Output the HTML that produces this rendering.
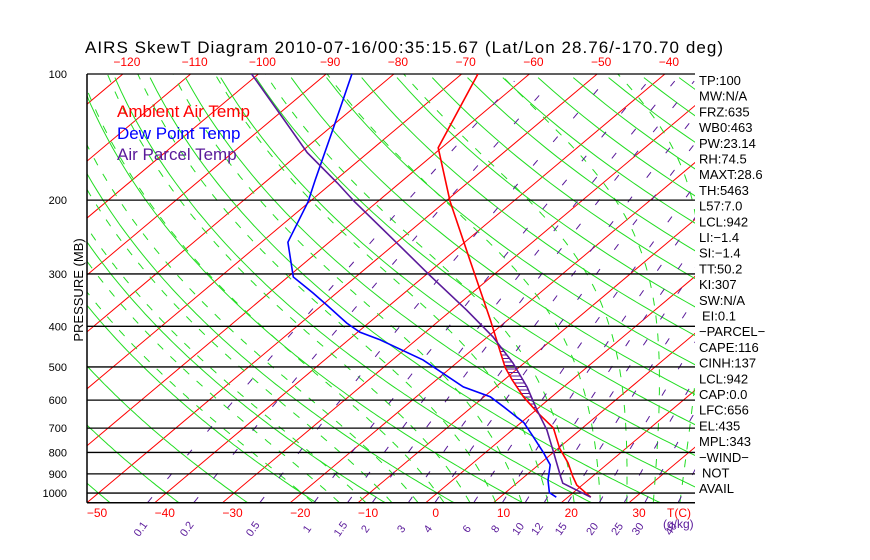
<!DOCTYPE html>
<html><head><meta charset="utf-8">
<style>
html,body{margin:0;padding:0;background:#fff;}
svg{display:block;font-family:"Liberation Sans",sans-serif;}
</style></head>
<body>
<svg id="chart" width="870" height="560" viewBox="0 0 870 560" xmlns="http://www.w3.org/2000/svg">
<defs><clipPath id="plotclip"><rect x="87" y="74" width="608" height="429"/></clipPath></defs>
<rect width="870" height="560" fill="#fff"/>
<text x="85" y="53" font-size="17" fill="#000" textLength="638">AIRS SkewT Diagram 2010-07-16/00:35:15.67 (Lat/Lon 28.76/-170.70 deg)</text>
<g id="bg" clip-path="url(#plotclip)"></g>
<g id="axes"></g>
<g id="series" clip-path="url(#plotclip)"></g>
<g id="labels"></g>
<text transform="translate(83,290) rotate(-90)" text-anchor="middle" font-size="13" fill="#000">PRESSURE (MB)</text>
<text x="117" y="117" font-size="17" fill="#ff0000">Ambient Air Temp</text>
<text x="117" y="139" font-size="17" fill="#0000ff">Dew Point Temp</text>
<text x="117" y="160" font-size="17" fill="#5a1a9a">Air Parcel Temp</text>
</svg>
<script>
const ambP=[100,150,201,278,386,439,502,537,589,643,699,782,847,913,957,1023];
const ambT=[-67.6,-60.5,-49.4,-36.1,-22.6,-17.4,-12.0,-8.8,-4.2,0.7,5.7,10.2,14.0,17.1,19.2,23.4];
const dewP=[100,136,179,202,252,305,333,356,393,413,431,481,558,589,622,679,734,801,856,932,998,1023];
const dewT=[-86.2,-79.2,-73,-70.2,-66.1,-59.2,-53.5,-49.3,-43.2,-39.7,-35.3,-25.5,-14.8,-9.1,-5.4,0.4,4.3,8.6,11.7,14.1,16.5,18.3];
const parP=[100,127,154,182,202,253,302,366,424,489,558,633,707,801,913,947,1023];
const parT=[-101,-88.8,-79,-69.2,-63.3,-49.9,-39.4,-27.8,-19.2,-11.7,-5.4,0.1,5.1,10.1,15.3,16.8,23.4];
const pTicks=[100,200,300,400,500,600,700,800,900,1000];
const topTicks=[-120,-110,-100,-90,-80,-70,-60,-50,-40];
const botTicks=[-50,-40,-30,-20,-10,0,10,20,30];
const mixRatios=[0.1,0.2,0.5,1,1.5,2,3,4,6,8,10,12,15,20,25,30,40];
const mixLabels=["0.1","0.2","0.5","1","1.5","2","3","4","6","8","10","12","15","20","25","30","40"];
const stats=["TP:100","MW:N/A","FRZ:635","WB0:463","PW:23.14","RH:74.5","MAXT:28.6","TH:5463","L57:7.0","LCL:942","LI:-1.4","SI:-1.4","TT:50.2","KI:307","SW:N/A","EI:0.1","-PARCEL-","CAPE:116","CINH:137","LCL:942","CAP:0.0","LFC:656","EL:435","MPL:343","-WIND-","NOT","AVAIL"];

const NS="http://www.w3.org/2000/svg";
const X0=87,Y0=74,YB=502.7,SX=6.775,SK=1.19,LP=182,PB=1054;
const yP=p=>Y0+LP*Math.log(p/100);
const xT=(T,y)=>X0+(T+50)*SX+SK*(YB-y);
function mk(tag,attrs,parent){const e=document.createElementNS(NS,tag);for(const k in attrs)e.setAttribute(k,attrs[k]);parent.appendChild(e);return e;}
const bg=document.getElementById('bg'),axes=document.getElementById('axes'),ser=document.getElementById('series'),lab=document.getElementById('labels');

for(let T=-180;T<=60;T+=10){
  const l=mk('line',{x1:xT(T,YB),y1:YB,x2:xT(T,Y0),y2:Y0,stroke:'#ff0000','stroke-width':1},bg);
  
  
}
for(let th=-50;th<=260;th+=10){
  let pts=[];
  for(let p=PB;p>=99;p-=8){const T=(th+273.15)*Math.pow(p/1000,0.286)-273.15;const y=yP(p);pts.push(xT(T,y).toFixed(1)+','+y.toFixed(1));}
  const l=mk('polyline',{points:pts.join(' '),fill:'none',stroke:'#22dd22','stroke-width':1},bg);
  
  
}
function es(T){return 6.112*Math.exp(17.67*T/(T+243.5));}
for(let t0=-20;t0<=44;t0+=4){
  const grad=(T,p)=>{const Tc=T-273.15;const rs=0.622*es(Tc)/(p-es(Tc));const Lv=2.5e6,Rd=287,cp=1004,eps=0.622;return (Rd*T+Lv*rs)/(p*(cp+Lv*Lv*rs*eps/(Rd*T*T)));};
  let T=t0+273.15;for(let q=1000;q<PB;q+=2){T+=grad(T,q)*2;}
  let p=PB,pts=[];
  while(p>=100){const y=yP(p);pts.push(xT(T-273.15,y).toFixed(1)+','+y.toFixed(1));T-=grad(T,p)*2;p-=2;}
  const l=mk('polyline',{points:pts.join(' '),fill:'none',stroke:'#22dd22','stroke-width':1,'stroke-dasharray':'8 10'},bg);
  
  
}
mixRatios.forEach((w,i)=>{
  let pts=[];
  for(let p=PB;p>=100;p-=10){const e=w*p/(622+w);const a=Math.log(e/6.112);const Td=243.5*a/(17.67-a);const y=yP(p);pts.push(xT(Td,y).toFixed(1)+','+y.toFixed(1));}
  const l=mk('polyline',{points:pts.join(' '),fill:'none',stroke:'#5a1a9a','stroke-width':1,'stroke-dasharray':'7 24'},bg);
  
  
  const e=w*PB/(622+w);const a=Math.log(e/6.112);const Td=243.5*a/(17.67-a);const xb=xT(Td,YB);
  const t=mk('text',{transform:`translate(${(xb-4).toFixed(1)},531) rotate(-55)`,'font-size':11,fill:'#5a1a9a','text-anchor':'middle'},lab);
  t.textContent=mixLabels[i];
  
  
});
pTicks.forEach(p=>{
  const y=yP(p);
  const l=mk('line',{x1:87,y1:y,x2:695,y2:y,stroke:'#000','stroke-width':1.3},axes);
  
  
  const t=mk('text',{x:67,y:y+4,'font-size':11,fill:'#000','text-anchor':'end'},axes);
  t.textContent=p;
  
  
});
const bl=mk('line',{x1:87,y1:YB,x2:695,y2:YB,stroke:'#000','stroke-width':1.5},axes);


const ll=mk('line',{x1:87,y1:Y0,x2:87,y2:YB,stroke:'#000','stroke-width':1.5},axes);


topTicks.forEach(T=>{
  const t=mk('text',{x:xT(T,Y0)+4,y:66,'font-size':12,fill:'#ff0000','text-anchor':'middle'},axes);
  t.textContent=String(T).replace('-','\u2212');
  
  
});
botTicks.forEach(T=>{
  const t=mk('text',{x:xT(T,YB)+10,y:517,'font-size':12,fill:'#ff0000','text-anchor':'middle'},axes);
  t.textContent=String(T).replace('-','\u2212');
  
  
});
const tc=mk('text',{x:667,y:517,'font-size':12,fill:'#ff0000'},axes);tc.textContent='T(C)';


const gk=mk('text',{x:663,y:528,'font-size':12,fill:'#5a1a9a'},axes);gk.textContent='(g/kg)';



function toPix(P,T){return P.map((p,i)=>{const y=yP(p);return [xT(T[i],y),y];});}
const amb=toPix(ambP,ambT),dew=toPix(dewP,dewT),par=toPix(parP,parT);
function xAt(pts,y){for(let i=0;i<pts.length-1;i++){const a=pts[i],b=pts[i+1];if(y>=a[1]&&y<=b[1]){return a[0]+(b[0]-a[0])*(y-a[1])/(b[1]-a[1]);}}return null;}
for(let y=par[0][1]+1;y<amb[amb.length-1][1];y+=3.5){
  const xa=xAt(amb,y),xp=xAt(par,y);
  if(xa!==null&&xp!==null&&xp>xa+1.5&&y>300){
    const h=mk('line',{x1:xa,y1:y,x2:xp,y2:y,stroke:'#5a1a9a','stroke-width':1},ser);
    
    
  }
}
const pl=p=>p.map(q=>q[0].toFixed(1)+','+q[1].toFixed(1)).join(' ');
const la=mk('polyline',{points:pl(amb),fill:'none',stroke:'#ff0000','stroke-width':1.6},ser);


const ld=mk('polyline',{points:pl(dew),fill:'none',stroke:'#0000ff','stroke-width':1.6},ser);


const lp=mk('polyline',{points:pl(par),fill:'none',stroke:'#5a1a9a','stroke-width':1.6},ser);



stats.forEach((s,i)=>{
  const t=mk('text',{x:s==='EI:0.1'||s==='NOT'?702:699,y:85+i*15.7,'font-size':13,fill:'#000'},lab);
  t.textContent=s.replace(/-/g,'\u2212');
  
  
});
</script>
</body></html>
